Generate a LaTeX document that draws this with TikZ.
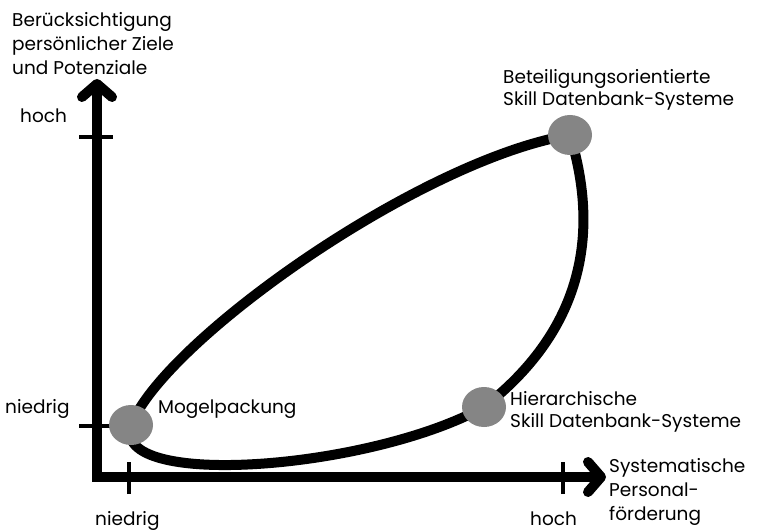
\documentclass[tikz,border=0pt]{standalone}
\usepackage{fontspec}
\setmainfont{Poppins}
\usetikzlibrary{arrows.meta, positioning, backgrounds, shapes.geometric}
\definecolor{dotgray}{RGB}{133,133,133}
\tikzset{
  axis/.style={line width=10pt, line join=miter,
    {Straight Barb[length=13pt, width=30pt, round]}-{Straight Barb[length=13pt, width=30pt, round]}}, % both axis ends
  tick/.style={line width=4.5pt},
  loop/.style={line width=10pt},
  dot/.style={ellipse, fill=dotgray, minimum width=44pt, minimum height=40pt, inner sep=0pt},
  lbl/.style={font=\fontsize{18.5}{22}\selectfont, align=left, inner sep=0pt, anchor=base west},
  ttl/.style={lbl, font=\fontsize{18.5}{24}\selectfont},
}
\begin{document}
\begin{tikzpicture}[x=1pt, y=-1pt]
  \useasboundingbox (0,0) rectangle (761,532);

  % Axes
  \coordinate (origin) at (97,477);
  \coordinate (ytip) at (97,79);
  \coordinate (xtip) at (606,477);
  \draw[axis] (ytip) -- (origin) -- (xtip);

  % Ticks
  \coordinate (yhigh) at (97,137);
  \coordinate (ylow) at (97,426);
  \coordinate (xlow) at (129,477);
  \coordinate (xhigh) at (563,477);
  \draw[tick] ([xshift=-18pt]yhigh) -- ([xshift=16pt]yhigh);
  \draw[tick] ([xshift=-18pt]ylow) -- ([xshift=16pt]ylow);
  \draw[tick] ([yshift=-17pt]xlow) -- ([yshift=15pt]xlow);
  \draw[tick] ([yshift=-17pt]xhigh) -- ([yshift=15pt]xhigh);

  % Points
  \node[dot] (mogel) at (131,425) {};
  \node[dot] (beteil) at (570,135) {};
  \node[dot] (hier) at (484,407) {};

  % Loop
  \begin{scope}[on background layer]
    \draw[loop] (mogel.center) .. controls (165,340) and (420,160) .. (beteil.center)
      .. controls (605,250) and (570,340) .. (hier.center)
      .. controls (370,470) and (110,490) .. (mogel.center);
  \end{scope}

  % Labels (base = last line)
  \node[ttl] (ytitle) at (12,75) {Berücksichtigung\\persönlicher Ziele\\und Potenziale};
  \node[ttl] (xtitle) at (609,520) {Systematische\\Personal-\\förderung};
  \node[lbl] (yhightxt) at (20,123) {hoch};
  \node[lbl] (ylowtxt) at (5,413) {niedrig};
  \node[lbl] (xlowtxt) at (95,525) {niedrig};
  \node[lbl] (xhightxt) at (530,525) {hoch};
  \node[lbl] (mogeltxt) at (158,413) {Mogelpackung};
  \node[lbl] (beteiltxt) at (503,106) {Beteiligungsorientierte\\Skill Datenbank-Systeme};
  \node[lbl] (hiertxt) at (510,427) {Hierarchische\\Skill Datenbank-Systeme};
\end{tikzpicture}
\end{document}
